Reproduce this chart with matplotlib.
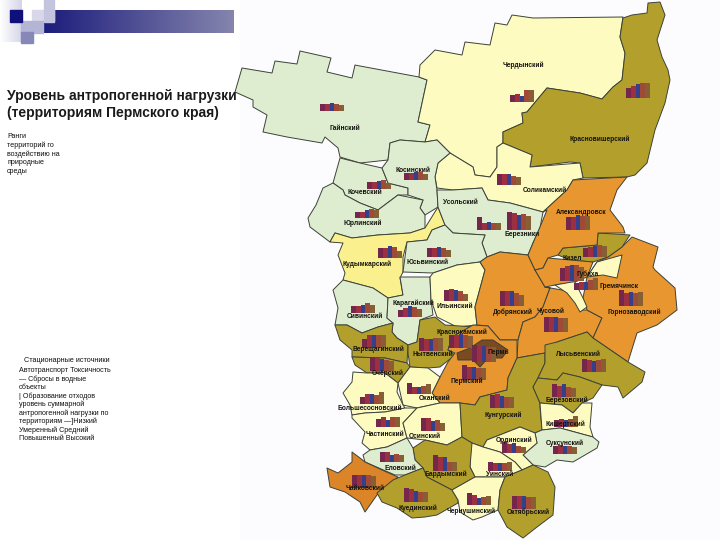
# -*- coding: utf-8 -*-
import matplotlib.pyplot as plt
import numpy as np
from matplotlib.patches import Polygon, Rectangle

plt.rcParams['font.family'] = ['Liberation Sans', 'DejaVu Sans']

PALE_GREEN = '#deedd0'
PALE_YELLOW = '#fdfbc0'
YELLOW = '#fbf08e'
OLIVE = '#b3a02c'
ORANGE = '#e8962f'
BROWN = '#dc8428'
DARK = '#7a4a22'

# district outlines, in picture pixels
gainsky = [(242,68),(272,73),(275,61),(297,64),(300,51),(331,58),(327,72),(352,78),(355,65),(360,66),(419,77),(427,80),(418,122),(430,125),(425,142),(400,140),(390,143),(388,160),(360,163),(340,157),(338,148),(325,137),(322,143),(287,137),(263,132),(267,115),(253,107),(253,100),(235,92)]
cherdynsky = [(419,77),(420,65),(435,50),(462,55),(465,42),(490,45),(495,23),(507,25),(512,15),(533,18),(623,17),(620,37),(625,53),(622,80),(613,87),(602,99),(580,93),(547,88),(527,112),(522,113),(523,123),(503,132),(503,143),(497,147),(497,167),(490,177),(475,175),(473,167),(450,153),(437,140),(425,142),(430,125),(418,122),(427,80)]
krasnovishersky = [(623,18),(632,15),(647,13),(648,3),(660,2),(665,15),(657,40),(662,57),(668,70),(670,80),(665,103),(655,130),(647,163),(635,175),(627,177),(583,178),(580,163),(570,162),(530,167),(532,155),(503,143),(503,132),(523,123),(522,113),(527,112),(547,88),(580,93),(602,99),(613,87),(622,80),(625,53),(620,37)]
solikamsky = [(450,153),(473,167),(475,175),(490,177),(497,167),(497,147),(503,143),(532,155),(530,167),(580,163),(583,178),(573,180),(567,190),(543,212),(510,203),(488,200),(482,188),(453,190),(437,188),(435,177),(438,163)]
kochevsky = [(340,158),(360,163),(382,168),(388,183),(408,188),(408,195),(398,195),(378,210),(360,203),(345,195),(343,190),(333,183)]
kosinsky = [(390,143),(400,140),(425,142),(437,140),(450,153),(438,163),(435,177),(437,190),(438,207),(425,215),(420,208),(423,200),(408,195),(408,188),(388,183),(382,168),(388,160)]
yurlinsky = [(323,188),(333,183),(343,190),(345,195),(360,203),(378,210),(398,195),(423,200),(420,208),(425,215),(425,228),(410,233),(378,235),(352,238),(335,233),(330,242),(310,227),(308,218),(316,205)]
kudymkarsky = [(335,233),(352,238),(378,235),(410,233),(425,228),(438,207),(445,225),(432,230),(427,240),(407,242),(403,257),(403,272),(400,278),(403,295),(388,298),(373,288),(343,280),(345,273),(338,255),(343,243),(330,242)]
usolsky = [(437,190),(453,190),(482,188),(488,200),(510,203),(543,212),(540,228),(533,243),(528,255),(500,252),(487,257),(482,243),(485,235),(453,233),(445,225),(438,207)]
yusvinsky = [(407,242),(427,240),(432,230),(445,225),(453,233),(485,235),(482,243),(487,257),(480,262),(457,265),(433,273),(403,272)]
sivinsky = [(343,280),(373,288),(388,298),(387,318),(393,323),(378,327),(362,333),(347,325),(335,325),(338,308),(333,290)]
karagaysky = [(400,277),(430,277),(431,300),(433,315),(420,320),(417,342),(408,345),(397,338),(392,332),(393,323),(387,318),(388,298),(403,295)]
ilyinsky = [(430,277),(433,273),(457,265),(480,262),(485,270),(475,307),(477,325),(457,327),(437,317),(431,300)]
dobryansky = [(485,270),(480,262),(487,257),(500,252),(528,255),(535,270),(545,287),(550,288),(543,307),(535,317),(523,322),(518,340),(500,340),(488,326),(477,325),(475,307)]
chusovskoy = [(545,287),(573,292),(580,310),(587,310),(602,318),(593,338),(587,332),(557,342),(545,353),(517,358),(518,340),(523,322),(535,317),(543,307),(550,288)]
gornozavodsky = [(632,237),(658,247),(653,267),(655,270),(675,288),(677,310),(657,325),(637,333),(628,362),(593,338),(602,318),(587,310),(583,298),(587,277),(597,262),(608,257),(622,247)]
kizelovsky = [(598,233),(630,235),(622,247),(608,257),(593,262),(570,260),(558,255),(563,248),(597,245)]
aleksandrovsky = [(573,180),(627,177),(617,190),(610,210),(623,227),(625,233),(598,233),(597,245),(563,248),(558,255),(548,258),(543,268),(535,270),(528,255),(533,243),(540,227),(547,210),(543,212),(567,190)]
gubakhinsky = [(548,258),(570,260),(593,262),(587,277),(575,282),(555,285),(545,287),(535,270),(543,268)]
yellow_a = [(555,285),(572,282),(575,282),(583,298),(587,307),(580,312),(575,303),(567,293)]
yellow_b = [(587,277),(597,262),(622,255),(617,278),(603,275)]
vereshchaginsky = [(335,325),(347,325),(362,333),(378,327),(393,323),(392,332),(397,338),(408,345),(407,363),(385,358),(352,357),(352,350),(340,340)]
ochyorsky = [(352,357),(385,358),(407,363),(410,367),(398,383),(385,373),(367,373),(355,365)]
nytvensky = [(420,320),(435,317),(445,325),(475,327),(473,328),(452,337),(448,350),(455,355),(440,367),(428,368),(410,367),(408,353),(408,345),(417,342)]
permsky = [(473,325),(488,326),(500,340),(517,340),(517,358),(508,378),(507,390),(480,397),(475,405),(460,403),(440,403),(432,393),(440,377),(448,362),(455,353),(448,350),(452,337)]
perm_city = [(482,340),(493,340),(508,350),(502,358),(488,358),(480,367),(473,360),(458,360),(457,353),(470,348)]
okhansky = [(398,383),(410,367),(428,368),(440,377),(432,393),(440,403),(417,408),(403,405)]
bolshesosnovsky = [(353,372),(367,373),(385,373),(398,383),(397,392),(403,405),(405,408),(385,412),(365,413),(352,415),(350,405),(343,393),(352,382)]
chastinsky = [(352,415),(365,413),(385,412),(405,408),(417,408),(403,423),(407,438),(387,447),(370,450),(362,443),(365,432),(352,418)]
osinsky = [(417,408),(440,403),(460,403),(462,437),(447,445),(425,440),(407,438),(403,423)]
kungursky = [(460,403),(475,405),(480,397),(507,390),(508,378),(517,358),(545,353),(545,363),(538,378),(533,387),(540,403),(540,407),(542,430),(535,433),(520,427),(487,440),(483,447),(472,443),(462,437)]
lysvensky = [(545,345),(557,342),(587,332),(593,338),(628,362),(645,372),(642,382),(623,398),(618,387),(602,385),(580,377),(563,373),(557,380),(538,378),(545,363)]
berezovsky = [(538,378),(557,380),(563,373),(580,377),(602,385),(593,398),(582,403),(573,413),(562,405),(540,403),(533,387)]
kishertsky = [(540,403),(562,405),(573,413),(582,403),(592,403),(590,427),(593,437),(560,428),(542,430)]
suksunsky = [(535,433),(542,430),(560,428),(593,437),(599,442),(597,448),(573,462),(557,460),(545,467),(533,465),(523,455),(537,443)]
ordinsky = [(483,447),(487,440),(520,427),(535,433),(537,443),(523,455),(533,465),(522,470),(515,462),(500,452)]
uinsky = [(470,447),(472,443),(483,447),(500,452),(515,462),(522,470),(505,477),(490,477),(475,477),(470,467)]
bardymsky = [(413,448),(425,440),(447,445),(462,437),(472,443),(470,467),(475,477),(452,490),(427,477),(423,468),(415,460)]
elovsky = [(363,455),(370,450),(387,447),(407,438),(413,448),(415,460),(423,468),(405,475),(395,475),(365,462)]
chaykovsky = [(352,452),(360,458),(365,462),(382,470),(398,477),(377,495),(365,512),(360,502),(345,492),(330,487),(327,468),(338,473),(352,462)]
kuedinsky = [(377,493),(393,480),(405,475),(423,468),(427,477),(452,490),(458,500),(458,503),(437,515),(425,517),(412,518),(397,508),(382,502)]
chernushinsky = [(452,490),(475,477),(490,477),(505,477),(500,490),(498,510),(482,517),(473,520),(460,512),(458,500)]
oktyabrsky = [(505,477),(522,470),(533,465),(548,472),(555,487),(553,515),(537,527),(523,538),(507,527),(498,510),(500,490)]

districts = [gainsky, cherdynsky, krasnovishersky, solikamsky, kochevsky, kosinsky, yurlinsky, kudymkarsky, usolsky, yusvinsky, sivinsky, karagaysky, ilyinsky, dobryansky, chusovskoy, gornozavodsky, kizelovsky, aleksandrovsky, gubakhinsky, yellow_a, yellow_b, vereshchaginsky, ochyorsky, nytvensky, permsky, perm_city, okhansky, bolshesosnovsky, chastinsky, osinsky, kungursky, lysvensky, berezovsky, kishertsky, suksunsky, ordinsky, uinsky, bardymsky, elovsky, chaykovsky, kuedinsky, chernushinsky, oktyabrsky]
district_colors = [PALE_GREEN, PALE_YELLOW, OLIVE, PALE_YELLOW, PALE_GREEN, PALE_GREEN, PALE_GREEN, YELLOW, PALE_GREEN, PALE_GREEN, PALE_GREEN, PALE_GREEN, PALE_YELLOW, ORANGE, ORANGE, ORANGE, OLIVE, ORANGE, ORANGE, PALE_YELLOW, PALE_YELLOW, OLIVE, OLIVE, OLIVE, ORANGE, DARK, PALE_YELLOW, PALE_YELLOW, PALE_YELLOW, PALE_YELLOW, OLIVE, OLIVE, OLIVE, PALE_YELLOW, PALE_GREEN, PALE_YELLOW, PALE_YELLOW, OLIVE, PALE_GREEN, BROWN, OLIVE, PALE_YELLOW, OLIVE]

# five bars per district: heights, then where each group stands
bar_values = [
    [7,7,8,7,6],[7,8,6,12,12],[10,12,14,15,15],[11,11,11,9,8],[7,7,8,8,6],
    [7,7,8,9,6],[6,6,8,9,8],[13,7,8,7,7],[18,17,15,16,14],[13,13,15,14,14],
    [9,10,11,12,11],[10,10,12,11,7],[9,9,10,9,7],[13,15,16,16,14],[7,8,8,10,12],
    [16,13,14,13,14],[15,15,15,13,11],[15,15,15,14,14],[11,12,11,10,7],[7,9,11,10,8],
    [7,7,8,10,8],[9,13,13,13,13],[13,12,12,13,13],[13,13,14,13,12],[17,16,16,15,15],
    [14,13,12,11,10],[15,13,13,12,12],[11,7,7,8,10],[7,10,10,9,12],[13,14,12,11,11],
    [13,11,13,10,9],[13,12,11,12,13],[7,8,7,8,11],[8,9,8,8,7],[11,9,10,7,6],
    [9,8,8,8,9],[13,13,13,12,12],[12,10,7,8,9],[14,13,11,10,10],[16,14,14,9,9],
    [10,10,7,8,7],[13,13,13,13,12],[8,10,7,10,10],[13,13,10,11,8],
]
bar_x = [320,510,626,497,404,367,355,477,507,566,583,378,427,560,574,619,500,544,444,398,351,362,419,449,472,370,462,407,360,490,552,582,554,553,502,488,512,467,404,433,380,352,376,421]
bar_y = [111,102,98,185,180,189,218,230,230,230,257,258,257,281,290,306,306,332,301,317,313,348,351,348,362,371,380,394,404,408,397,372,427,454,453,471,509,505,502,471,462,488,427,431]
bar_colors = ['#74264c', '#9c3040', '#34418a', '#9e4a36', '#866034']

map_labels = ['Чердынский','Красновишерский','Гайнский','Косинский','Кочевский','Юрлинский','Усольский','Соликамский','Березники','Александровск','Кизел','Губаха','Гремячинск','Горнозаводский','Добрянский','Чусовой','Ильинский','Карагайский','Сивинский','Верещагинский','Нытвенский','Краснокамский','Пермь','Очёрский','Пермский','Кунгурский','Берёзовский','Лысьвенский','Кишертский','Суксунский','Ординский','Уинский','Октябрьский','Чернушинский','Куединский','Бардымский','Еловский','Чайковский','Большесосновский','Частинский','Оханский','Осинский','Кудымкарский','Юсьвинский']
label_x = [523,600,345,413,365,363,460,545,522,581,572,588,619,634,513,551,455,413,365,378,433,462,498,388,467,503,567,578,565,565,514,500,528,471,418,446,400,365,370,385,435,425,367,428]
label_y = [65,139,129,170,193,223,203,190,234,212,258,274,286,312,312,311,307,303,316,349,354,332,352,373,381,415,400,355,424,443,440,474,512,511,508,474,468,489,409,435,399,437,264,262]

title_lines = ['Уровень антропогенной нагрузки', '(территориям Пермского края)']
rank_lines = ['Ранги', 'территорий го', 'воздействию на', 'природные', 'среды']
legend_lines = ['Автотранспорт Токсичность', '— Сбросы в водные', 'объекты', '| Образование отходов', 'уровень суммарной', 'антропогенной нагрузки по', 'территориям —]Низкий', 'Умеренный Средний', 'Повышенный Высокий']

fig = plt.figure(figsize=(7.2, 5.4), dpi=100)
ax = fig.add_axes([0, 0, 1, 1])
ax.set_xlim(0, 720)
ax.set_ylim(540, 0)
ax.axis('off')

# slide decoration
ax.add_patch(Rectangle((240, 0), 480, 540, color='#fcfcfe', zorder=0))
grad = np.linspace(0, 1, 256).reshape(1, -1)
ax.imshow(grad, extent=(43, 234, 33, 10), cmap=plt.cm.colors.LinearSegmentedColormap.from_list('b', ['#1c1c7c', '#8585ae']), aspect='auto', zorder=1)
ax.imshow(grad, extent=(0, 22, 42, 0), cmap=plt.cm.colors.LinearSegmentedColormap.from_list('c', ['#ffffff', '#d5d5e8']), aspect='auto', zorder=1)
ax.set_xlim(0, 720)
ax.set_ylim(540, 0)
ax.add_patch(Rectangle((10, 10), 12, 12, color='#10107a', zorder=3))
ax.add_patch(Rectangle((32, 10), 22, 11, color='#d8d8ea', zorder=2))
ax.add_patch(Rectangle((44, 0), 10, 22, color='#c4c4de', zorder=2))
ax.add_patch(Rectangle((21, 21), 22, 12, color='#b4b4d4', zorder=2))
ax.add_patch(Rectangle((21, 32), 12, 11, color='#8888b8', zorder=2))

for poly, col in zip(districts, district_colors):
    ax.add_patch(Polygon(poly, closed=True, facecolor=col, edgecolor='#3c4238', linewidth=0.7, joinstyle='round', zorder=4))

for vals, x0, y0 in zip(bar_values, bar_x, bar_y):
    xs = x0 + 2.4 + 4.8 * np.arange(5)
    ax.bar(xs, -np.array(vals), width=4.8, bottom=y0, color=bar_colors, linewidth=0, zorder=5)

for name, x, y in zip(map_labels, label_x, label_y):
    ax.text(x, y, name, fontsize=4.8, fontweight='bold', color='#15130f', ha='center', va='center', zorder=6)

ax.text(7, 96, title_lines[0], fontsize=10, fontweight='bold', color='#1a1a1a', va='center', zorder=7)
ax.text(7, 113, title_lines[1], fontsize=10, fontweight='bold', color='#1a1a1a', va='center', zorder=7)

for i, line in enumerate(rank_lines):
    ax.text(7, 137 + 8.6 * i, line, fontsize=5.1, color='#111111', va='center')

ax.text(24, 360, 'Стационарные источники', fontsize=5.2, color='#111111', va='center')
for i, line in enumerate(legend_lines):
    ax.text(19, 371 + 8.4 * i, line, fontsize=5.1, color='#111111', va='center')

fig.savefig('out.png', dpi=100)
